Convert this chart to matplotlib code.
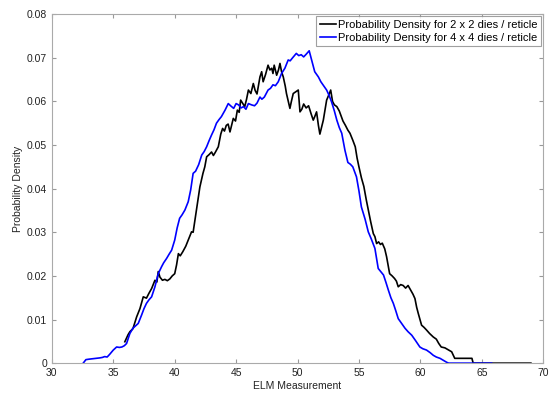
import numpy as np
import matplotlib
matplotlib.use("Agg")
import matplotlib.pyplot as plt

plt.rcParams['font.family'] = ['Liberation Sans', 'DejaVu Sans']

# 2 x 2 dies / reticle (black)
x_2x2 = [35.94, 36.2, 36.35, 36.6, 36.9, 37.17, 37.44, 37.7, 37.9, 38.12, 38.39, 38.55, 38.66, 38.8,
         39.0, 39.2, 39.4, 39.6, 39.8, 40.0, 40.15, 40.3, 40.45, 40.65, 40.9, 41.1, 41.37, 41.5, 41.65,
         41.9, 42.05, 42.3, 42.45, 42.6, 42.8, 43.0, 43.15, 43.3, 43.55, 43.75, 43.9, 44.05, 44.2, 44.35,
         44.5, 44.77, 44.95, 45.1, 45.25, 45.37, 45.55, 45.7, 45.85, 46.0, 46.2, 46.4, 46.55, 46.7, 46.94,
         47.08, 47.2, 47.4, 47.6, 47.75, 47.9, 48.0, 48.1, 48.3, 48.45, 48.57, 48.7, 48.84, 49.0, 49.1,
         49.25, 49.38, 49.5, 49.65, 49.85, 50.06, 50.2, 50.35, 50.5, 50.7, 50.9, 51.1, 51.28, 51.4, 51.55,
         51.7, 51.82, 51.95, 52.1, 52.25, 52.37, 52.55, 52.7, 52.85, 53.0, 53.2, 53.4, 53.7, 53.9, 54.1,
         54.27, 54.5, 54.7, 54.85, 55.0, 55.2, 55.4, 55.6, 55.76, 55.95, 56.17, 56.3, 56.44, 56.6, 56.75,
         56.9, 57.1, 57.25, 57.5, 57.7, 57.9, 58.05, 58.2, 58.4, 58.6, 58.8, 59.0, 59.2, 59.4, 59.56, 59.7,
         59.83, 60.1, 60.3, 60.5, 60.75, 61.05, 61.3, 61.5, 61.7, 62.0, 62.3, 62.55, 62.8, 64.2, 64.3, 69.0]
y_2x2 = [0.0049, 0.0065, 0.0072, 0.0079, 0.0106, 0.0125, 0.0152, 0.0149, 0.0160, 0.0171, 0.0190, 0.0186,
         0.0210, 0.0197, 0.0190, 0.0192, 0.0189, 0.0193, 0.0200, 0.0205, 0.0225, 0.0251, 0.0246, 0.0255,
         0.0268, 0.0282, 0.0301, 0.0300, 0.0328, 0.0374, 0.0404, 0.0435, 0.0450, 0.0473, 0.0478, 0.0484,
         0.0476, 0.0483, 0.0496, 0.0525, 0.0538, 0.0532, 0.0545, 0.0548, 0.0530, 0.0561, 0.0555, 0.0580,
         0.0575, 0.0603, 0.0595, 0.0588, 0.0605, 0.0626, 0.0618, 0.0641, 0.0625, 0.0617, 0.0656, 0.0668,
         0.0645, 0.0662, 0.0683, 0.0672, 0.0676, 0.0664, 0.0683, 0.0660, 0.0672, 0.0687, 0.0668, 0.0656,
         0.0635, 0.0618, 0.0600, 0.0584, 0.0600, 0.0618, 0.0622, 0.0626, 0.0576, 0.0582, 0.0594, 0.0585,
         0.0590, 0.0572, 0.0557, 0.0565, 0.0576, 0.0545, 0.0525, 0.0540, 0.0557, 0.0582, 0.0603, 0.0615,
         0.0626, 0.0600, 0.0592, 0.0588, 0.0578, 0.0555, 0.0545, 0.0534, 0.0527, 0.0511, 0.0496, 0.0470,
         0.0450, 0.0425, 0.0405, 0.0374, 0.0351, 0.0325, 0.0297, 0.0290, 0.0274, 0.0278, 0.0272, 0.0275,
         0.0262, 0.0244, 0.0205, 0.0200, 0.0194, 0.0188, 0.0175, 0.0180, 0.0178, 0.0172, 0.0178, 0.0168,
         0.0158, 0.0148, 0.0128, 0.0114, 0.0087, 0.0082, 0.0076, 0.0068, 0.0060, 0.0055, 0.0045, 0.0037,
         0.0035, 0.0030, 0.0026, 0.0011, 0.0011, 0.0, 0.0]

# 4 x 4 dies / reticle (blue)
x_4x4 = [32.55, 32.77, 33.0, 33.3, 33.6, 33.9, 34.1, 34.3, 34.5, 34.7, 35.0, 35.27, 35.5, 35.7, 35.9,
         36.08, 36.35, 36.6, 36.8, 37.03, 37.3, 37.5, 37.7, 37.9, 38.12, 38.39, 38.66, 38.93, 39.1, 39.34,
         39.55, 39.75, 40.0, 40.2, 40.4, 40.6, 40.83, 41.1, 41.3, 41.5, 41.7, 41.95, 42.2, 42.4, 42.6, 42.8,
         43.0, 43.2, 43.4, 43.6, 43.8, 44.1, 44.36, 44.55, 44.8, 45.0, 45.2, 45.4, 45.6, 45.8, 46.0, 46.26,
         46.5, 46.7, 46.94, 47.1, 47.3, 47.6, 47.8, 48.0, 48.2, 48.43, 48.7, 48.97, 49.24, 49.4, 49.6, 49.9,
         50.1, 50.3, 50.5, 50.7, 50.95, 51.15, 51.4, 51.7, 51.9, 52.1, 52.37, 52.55, 52.77, 53.0, 53.2, 53.4,
         53.6, 53.86, 54.1, 54.3, 54.5, 54.8, 55.0, 55.2, 55.5, 55.76, 56.0, 56.3, 56.57, 57.0, 57.2, 57.4,
         57.6, 57.8, 58.0, 58.2, 58.5, 58.75, 59.0, 59.3, 59.6, 59.96, 60.2, 60.5, 60.8, 61.05, 61.3, 61.6,
         61.9, 62.14, 62.3, 65.8]
y_4x4 = [0.0, 0.0008, 0.0009, 0.0010, 0.0011, 0.0012, 0.0013, 0.0015, 0.0014, 0.0020, 0.0030, 0.0037,
         0.0036, 0.0037, 0.0040, 0.0045, 0.0068, 0.0080, 0.0085, 0.0091, 0.0110, 0.0125, 0.0137, 0.0145,
         0.0152, 0.0175, 0.0205, 0.0221, 0.0230, 0.0240, 0.0250, 0.0259, 0.0282, 0.0310, 0.0332, 0.0340,
         0.0351, 0.0370, 0.0397, 0.0435, 0.0440, 0.0455, 0.0477, 0.0485, 0.0496, 0.0510, 0.0523, 0.0535,
         0.0550, 0.0558, 0.0565, 0.0580, 0.0595, 0.0590, 0.0584, 0.0595, 0.0592, 0.0585, 0.0588, 0.0582,
         0.0595, 0.0592, 0.0590, 0.0596, 0.0610, 0.0605, 0.0610, 0.0626, 0.0630, 0.0638, 0.0636, 0.0645,
         0.0664, 0.0676, 0.0695, 0.0693, 0.0700, 0.0710, 0.0705, 0.0707, 0.0702, 0.0708, 0.0716, 0.0695,
         0.0668, 0.0656, 0.0645, 0.0637, 0.0626, 0.0615, 0.0599, 0.0578, 0.0557, 0.0540, 0.0527, 0.0488,
         0.0460, 0.0456, 0.0450, 0.0427, 0.0395, 0.0358, 0.0330, 0.0301, 0.0285, 0.0263, 0.0217, 0.0202,
         0.0185, 0.0167, 0.0150, 0.0137, 0.0120, 0.0102, 0.0090, 0.0080, 0.0072, 0.0064, 0.0052, 0.0037,
         0.0033, 0.0030, 0.0024, 0.0018, 0.0014, 0.0011, 0.0006, 0.0002, 0.0, 0.0]

labels = ['Probability Density for 2 x 2 dies / reticle',
          'Probability Density for 4 x 4 dies / reticle']

fig = plt.figure(figsize=(5.52, 3.93), dpi=100)
ax = fig.add_axes([0.094, 0.076, 0.89, 0.888])

ax.plot(x_2x2, y_2x2, color='black', lw=1.2, label=labels[0])
ax.plot(x_4x4, y_4x4, color='#0000ff', lw=1.2, label=labels[1])

ax.set_xlim(30, 70)
ax.set_ylim(0, 0.08)
ax.set_xticks(np.arange(30, 71, 5))
ax.set_yticks(np.arange(0, 0.081, 0.01))
ax.set_yticklabels(['0'] + ['%.2f' % v for v in np.arange(0.01, 0.081, 0.01)])

ax.tick_params(direction='in', top=True, right=True, labelsize=7.5,
               color='#999999', length=3, labelcolor='#222222')
for s in ax.spines.values():
    s.set_color('#aaaaaa')

ax.set_xlabel('ELM Measurement', fontsize=7.5, color='#222222', labelpad=2)
ax.set_ylabel('Probability Density', fontsize=7.5, color='#222222', labelpad=3)

leg = ax.legend(loc='upper right', fontsize=8, frameon=True, fancybox=False,
                handlelength=1.5, borderpad=0.3, labelspacing=0.3,
                handletextpad=0.15, borderaxespad=0.2)
leg.get_frame().set_edgecolor('#888888')
leg.get_frame().set_linewidth(0.8)

fig.savefig('out.png', dpi=100)
